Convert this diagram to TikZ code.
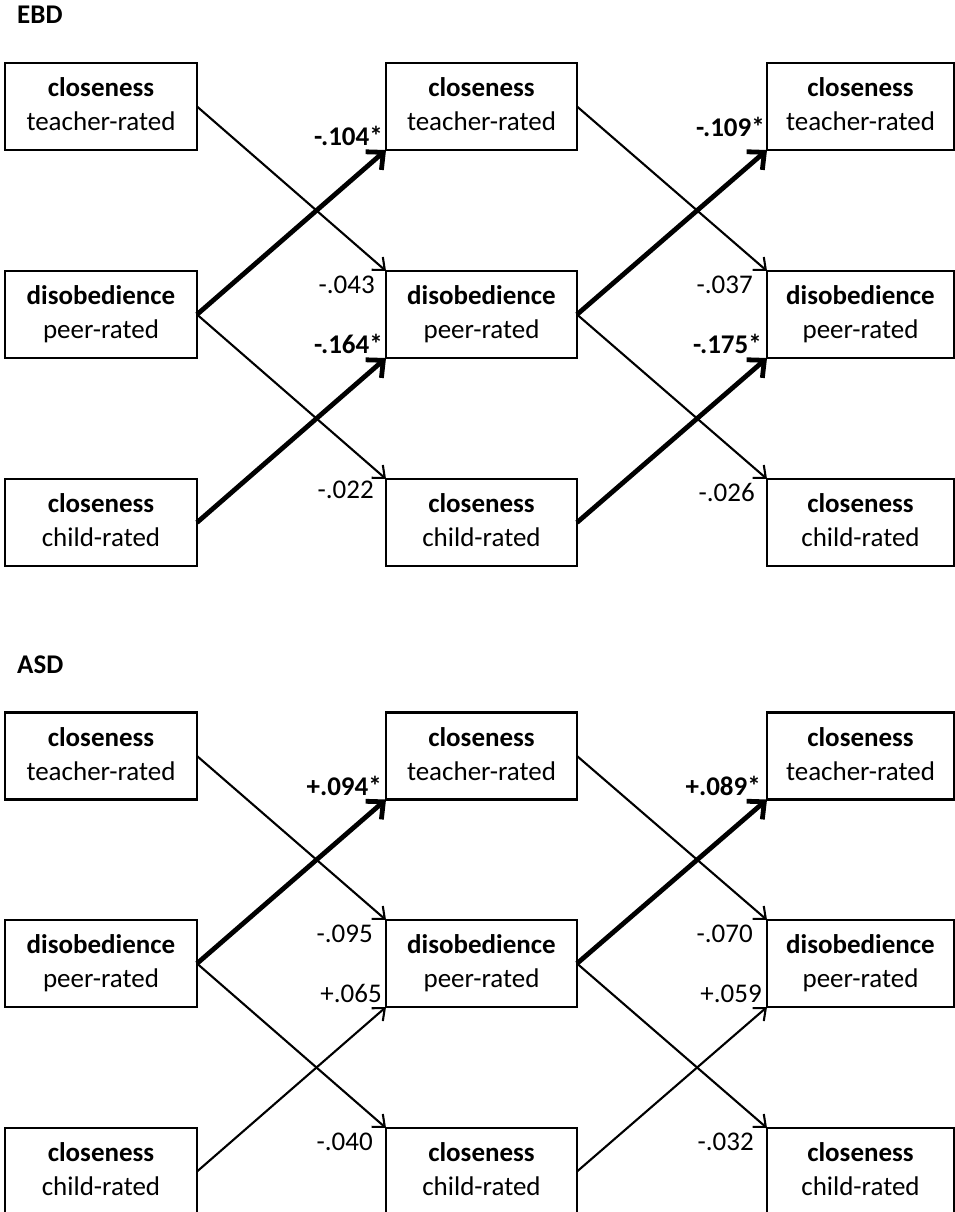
\documentclass[tikz,border=0pt]{standalone}
\usepackage{fontspec}
\setmainfont{Carlito}
\usetikzlibrary{arrows.meta}
\begin{document}
\begin{tikzpicture}[x=1pt,y=-1pt,
  every node/.style={font=\fontsize{27}{34}\selectfont},
  var/.style={draw, line width=2.8pt, inner sep=0pt, outer sep=0pt,
    minimum height=87pt, align=center},
  lcol/.style={var, minimum width=192pt},
  mcol/.style={var, minimum width=191pt},
  rcol/.style={var, minimum width=187pt},
  coef/.style={anchor=base east, inner sep=0pt},
  sig/.style={coef, font=\fontsize{27}{34}\selectfont\bfseries},
  thinarr/.style={line width=2.1pt, -{Straight Barb[length=10pt,width=17pt,line width=2.1pt]}},
  thickarr/.style={line width=4.8pt, -{Straight Barb[length=13pt,width=24pt,line width=4.8pt]}},
  title/.style={anchor=base west, inner sep=0pt, font=\fontsize{27}{34}\selectfont\bfseries}
]
\useasboundingbox (0,0) rectangle (955,1212);
\fill[white] (0,0) rectangle (955,1212);
\newcommand{\twol}[2]{\rule[-3pt]{0pt}{23.8pt}\textbf{#1}\\\rule[-6.8pt]{0pt}{10pt}#2}

% ---------- EBD ----------
\node[title] (tEBD) at (17,24) {EBD};
\node[lcol] (ea1) at (101,106.5) {\twol{closeness}{teacher-rated}};
\node[lcol] (ea2) at (101,314.5) {\twol{disobedience}{peer-rated}};
\node[lcol] (ea3) at (101,522.5) {\twol{closeness}{child-rated}};
\node[mcol] (eb1) at (481.5,106.5) {\twol{closeness}{teacher-rated}};
\node[mcol] (eb2) at (481.5,314.5) {\twol{disobedience}{peer-rated}};
\node[mcol] (eb3) at (481.5,522.5) {\twol{closeness}{child-rated}};
\node[rcol] (ec1) at (860.5,106.5) {\twol{closeness}{teacher-rated}};
\node[rcol] (ec2) at (860.5,314.5) {\twol{disobedience}{peer-rated}};
\node[rcol] (ec3) at (860.5,522.5) {\twol{closeness}{child-rated}};

\draw[thinarr] (ea1.east) -- (eb2.north west);
\draw[thickarr] (ea2.east) -- (eb1.south west);
\draw[thinarr] (ea2.east) -- (eb3.north west);
\draw[thickarr] (ea3.east) -- (eb2.south west);
\draw[thinarr] (eb1.east) -- (ec2.north west);
\draw[thickarr] (eb2.east) -- (ec1.south west);
\draw[thinarr] (eb2.east) -- (ec3.north west);
\draw[thickarr] (eb3.east) -- (ec2.south west);

\node[sig] (e1) at (383,146) {-.104*};
\node[coef] (e2) at (375,293) {-.043};
\node[sig] (e3) at (383,353) {-.164*};
\node[coef] (e4) at (374,498) {-.022};
\node[sig] (e5) at (765,136) {-.109*};
\node[coef] (e6) at (753,293) {-.037};
\node[sig] (e7) at (762,353) {-.175*};
\node[coef] (e8) at (755,501) {-.026};

% ---------- ASD ----------
\node[title] (tASD) at (17,673) {ASD};
\node[lcol] (aa1) at (101,756) {\twol{closeness}{teacher-rated}};
\node[lcol] (aa2) at (101,963.5) {\twol{disobedience}{peer-rated}};
\node[lcol] (aa3) at (101,1171.5) {\twol{closeness}{child-rated}};
\node[mcol] (ab1) at (481.5,756) {\twol{closeness}{teacher-rated}};
\node[mcol] (ab2) at (481.5,963.5) {\twol{disobedience}{peer-rated}};
\node[mcol] (ab3) at (481.5,1171.5) {\twol{closeness}{child-rated}};
\node[rcol] (ac1) at (860.5,756) {\twol{closeness}{teacher-rated}};
\node[rcol] (ac2) at (860.5,963.5) {\twol{disobedience}{peer-rated}};
\node[rcol] (ac3) at (860.5,1171.5) {\twol{closeness}{child-rated}};

\draw[thinarr] (aa1.east) -- (ab2.north west);
\draw[thickarr] (aa2.east) -- (ab1.south west);
\draw[thinarr] (aa2.east) -- (ab3.north west);
\draw[thinarr] (aa3.east) -- (ab2.south west);
\draw[thinarr] (ab1.east) -- (ac2.north west);
\draw[thickarr] (ab2.east) -- (ac1.south west);
\draw[thinarr] (ab2.east) -- (ac3.north west);
\draw[thinarr] (ab3.east) -- (ac2.south west);

\node[sig] (a1) at (382,795) {+.094*};
\node[coef] (a2) at (373,942) {-.095};
\node[coef] (a3) at (382,1002) {+.065};
\node[coef] (a4) at (373,1150) {-.040};
\node[sig] (a5) at (761,795) {+.089*};
\node[coef] (a6) at (753,942) {-.070};
\node[coef] (a7) at (762,1002) {+.059};
\node[coef] (a8) at (754,1150) {-.032};
\end{tikzpicture}
\end{document}
